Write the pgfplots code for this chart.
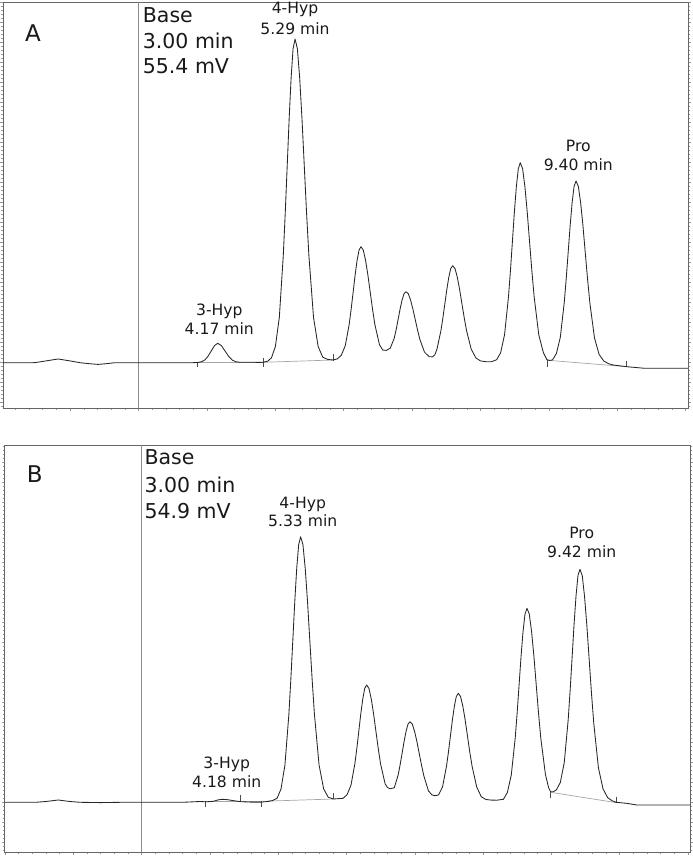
\documentclass[border=0pt]{standalone}
\usepackage{pgfplots}
\pgfplotsset{compat=1.18}
\usepackage{fontspec}
\setmainfont{DejaVu Sans}
\newcommand\bigf{\fontsize{20.5}{24}\selectfont}
\newcommand\smf{\fontsize{15.6}{18}\selectfont}
\newcommand\panf{\fontsize{23}{27}\selectfont}
\pgfplotsset{chrom/.style={
  scale only axis,
  axis line style={draw=black!60, line width=0.9pt},
  xtick distance=1, minor x tick num=4,
  ytick distance=20, minor y tick num=4,
  xticklabels={}, yticklabels={},
  tick align=outside, xtick pos=bottom, ytick pos=both,
  major tick length=3pt, minor tick length=2pt,
  tick style={black!40, line width=0.4pt},
  clip=true,
}}
\begin{document}
\begin{tikzpicture}[x=1pt,y=1pt]
\useasboundingbox (0,0) rectangle (693,857);
% ---------------- Panel A ----------------
\begin{axis}[chrom, at={(3pt,449pt)}, anchor=south west,
  width=685pt, height=406pt,
  xmin=1.02, xmax=11.035, ymin=-45.3, ymax=360.7]
\addplot[black!45, line width=0.7pt] coordinates {(3,-45.3) (3,360.7)};
\addplot[black!35, line width=0.7pt] coordinates {(3.859,0) (4.824,0)};
\addplot[black!35, line width=0.7pt] coordinates {(4.824,0.4) (5.845,2.7)};
\addplot[black!35, line width=0.7pt] coordinates {(8.972,2.5) (10.14,-4.0)};
\addplot[black!70, line width=0.6pt] coordinates {(3.859,0) (3.859,-4)};
\addplot[black!70, line width=0.6pt] coordinates {(4.824,4.4) (4.824,-4)};
\addplot[black!70, line width=0.6pt] coordinates {(5.845,8.7) (5.845,2)};
\addplot[black!70, line width=0.6pt] coordinates {(8.972,2.5) (8.972,-4)};
\addplot[black!70, line width=0.6pt] coordinates {(10.14,2) (10.14,-4)};
\addplot[black!85, line width=0.85pt, line join=round] coordinates {
(1.02,0) (1.46,0) (1.52,0.4) (1.65,1.8) (1.825,3.7) (2.0,1.8) (2.146,0) (2.28,-1.0) (2.409,-1.7) (2.53,-1.0) (2.658,0) (3.8,0)
(3.875,0.3) (3.9225,1.0) (3.97,2.7) (4.0175,6.4) (4.065,11.8) (4.1125,17.1) (4.16,19.4) (4.2125,17.1) (4.265,11.8) (4.3175,6.4) (4.37,2.7) (4.4225,1.0) (4.475,0.5) (4.55,0.4) (4.65,0.5) (4.75,0.3) (4.82,0.4)
(4.89,1.5) (4.945,4.9) (5.0025,16.2) (5.06,45.3) (5.1175,106.8) (5.146,148.9) (5.175,196.5) (5.204,244.4) (5.2325,284.9) (5.261,314.0) (5.29,323.7) (5.324,314.0) (5.3575,284.9) (5.391,244.4) (5.425,196.5) (5.459,148.9) (5.4925,106.8) (5.56,45.3) (5.6275,16.2) (5.695,5.5) (5.77,3.2) (5.845,2.7)
(5.909,3.8) (5.9665,7.5) (6.024,17.0) (6.0815,38.3) (6.11,53.4) (6.139,70.4) (6.168,87.6) (6.1965,102.1) (6.225,112.5) (6.254,116) (6.288,112.5) (6.3215,102.1) (6.355,87.6) (6.389,70.4) (6.423,53.4) (6.4565,38.3) (6.524,18.0) (6.572,12.7)
(6.625,12.3) (6.682,14.5) (6.7395,24.4) (6.768,33.0) (6.797,43.3) (6.8255,53.6) (6.854,62.5) (6.883,68.9) (6.912,71) (6.946,68.9) (6.9795,62.5) (7.013,53.6) (7.047,43.1) (7.081,32.7) (7.1145,23.4) (7.182,10.6) (7.25,6.0) (7.3,5.8)
(7.335,8.0) (7.365,13.6) (7.4225,32.0) (7.451,44.6) (7.48,58.9) (7.509,73.2) (7.5375,85.4) (7.566,94.1) (7.595,97) (7.629,94.1) (7.6625,85.4) (7.696,73.2) (7.73,58.9) (7.764,44.6) (7.7975,32.0) (7.865,13.6) (7.9325,4.9) (8.0,1.8) (8.08,1.0) (8.165,1.0)
(8.238,3) (8.2955,10) (8.353,28) (8.4105,66) (8.439,92) (8.468,121.4) (8.497,151) (8.5255,176) (8.554,194) (8.583,200) (8.617,194) (8.6505,176) (8.684,151) (8.718,121.4) (8.752,92) (8.7855,66) (8.853,28) (8.9205,10) (8.972,3.0)
(9.01,2.3) (9.053,2.7) (9.1105,9.1) (9.168,25.4) (9.2255,60.0) (9.254,83.6) (9.283,110.3) (9.312,137.2) (9.3405,159.9) (9.369,176.2) (9.398,181.7) (9.432,176.2) (9.4655,159.9) (9.499,137.0) (9.533,110.0) (9.567,83.2) (9.6005,59.5) (9.668,24.7) (9.7355,8.3) (9.803,1.7) (9.87,-0.9) (9.94,-2.3) (10.14,-4.0) (10.4,-5.6) (11.035,-5.6)
};
\end{axis}
% ---------------- Panel B ----------------
\begin{axis}[chrom, at={(4.7pt,5pt)}, anchor=south west,
  width=685.3pt, height=407pt,
  xmin=0.996, xmax=11.03, ymin=-49.7, ymax=357.3]
\addplot[black!45, line width=0.7pt] coordinates {(3,-49.7) (3,357.3)};
\addplot[black!35, line width=0.7pt] coordinates {(3.928,1) (4.758,1)};
\addplot[black!35, line width=0.7pt] coordinates {(4.758,1) (5.807,3.3)};
\addplot[black!35, line width=0.7pt] coordinates {(8.99,10) (9.946,-0.3)};
\addplot[black!70, line width=0.6pt] coordinates {(3.928,1) (3.928,-4.3)};
\addplot[black!70, line width=0.6pt] coordinates {(4.451,7.3) (4.451,1.7)};
\addplot[black!70, line width=0.6pt] coordinates {(4.758,1.7) (4.758,-4.3)};
\addplot[black!70, line width=0.6pt] coordinates {(5.807,9) (5.807,3)};
\addplot[black!70, line width=0.6pt] coordinates {(8.99,10) (8.99,4)};
\addplot[black!70, line width=0.6pt] coordinates {(9.946,5.7) (9.946,-0.3)};
\addplot[black!85, line width=0.85pt, line join=round] coordinates {
(0.996,0) (1.45,0) (1.6,0.8) (1.78,2.3) (1.95,0.8) (2.1,0) (2.4,-0.3) (2.7,0) (3.6,0) (3.7,0.3) (3.85,0.8) (3.95,0.5) (4.05,1.0) (4.12,2.4) (4.18,3.0) (4.26,2.6) (4.36,1.5) (4.45,0.6) (4.6,0.2) (4.75,0.2) (4.85,0.8)
(4.92,1.8) (4.984,4.0) (5.0415,13.3) (5.099,37.2) (5.1565,87.6) (5.185,122.2) (5.214,161.2) (5.243,200.5) (5.2715,233.7) (5.3,257.6) (5.329,265.6) (5.363,257.6) (5.3965,233.7) (5.43,200.5) (5.464,161.2) (5.498,122.2) (5.5315,87.6) (5.599,37.2) (5.6665,13.3) (5.734,5.0) (5.807,3.3)
(5.951,4.0) (6.0085,7.6) (6.066,17.0) (6.1235,38.7) (6.152,54.0) (6.181,71.2) (6.21,88.6) (6.2385,103.2) (6.267,113.8) (6.296,117.3) (6.33,113.8) (6.3635,103.2) (6.397,88.6) (6.431,71.2) (6.465,54.0) (6.4985,38.7) (6.566,18.5) (6.6,14.8) (6.64,13.5)
(6.7,14.5) (6.7575,27.5) (6.786,37.6) (6.815,49.1) (6.844,60.9) (6.8725,70.9) (6.901,78.2) (6.93,80.6) (6.964,78.2) (6.9975,70.9) (7.031,60.9) (7.065,48.9) (7.099,37.1) (7.1325,26.6) (7.2,11.5) (7.25,7.5) (7.29,6.6)
(7.33,7.0) (7.3495,7.5) (7.407,15.5) (7.4645,36.0) (7.493,50.1) (7.522,66.2) (7.551,82.3) (7.5795,95.9) (7.608,105.7) (7.637,109) (7.671,105.7) (7.7045,95.9) (7.738,82.3) (7.772,66.2) (7.806,50.1) (7.8395,36.0) (7.907,15.3) (7.9745,5.5) (8.042,2.8) (8.12,2.2) (8.2,2.1)
(8.298,3.0) (8.3555,9.7) (8.413,27.2) (8.4705,64.0) (8.499,89.2) (8.528,117.8) (8.557,146.5) (8.5855,170.7) (8.614,188.2) (8.643,194) (8.677,188.2) (8.7105,170.7) (8.744,146.5) (8.778,117.8) (8.812,89.2) (8.8455,64.0) (8.913,28) (8.96,14.5) (8.99,10.5)
(9.03,10.6) (9.074,12.5) (9.1315,19.9) (9.189,39.8) (9.2465,82.5) (9.275,111.9) (9.304,145.1) (9.333,178.5) (9.3615,206.7) (9.39,227.0) (9.419,233) (9.453,226.4) (9.4865,205.4) (9.52,176.6) (9.554,142.5) (9.588,108.6) (9.6215,78.6) (9.689,34.6) (9.7565,13.4) (9.824,4.7) (9.89,1.5) (9.95,0) (10.1,-1.0) (10.25,-2.7) (11.03,-2.7)
};
\end{axis}
% ---------------- Labels ----------------
\begin{scope}[every node/.style={inner sep=0pt, text=black!90}]
\node[anchor=base west] at (25,815.3) {\panf A};
\node[anchor=base west] at (142.7,834.7) {\bigf Base};
\node[anchor=base west] at (142.7,808.7) {\bigf 3.00 min};
\node[anchor=base west] at (142.7,783) {\bigf 55.4 mV};
\node[anchor=base] at (295,843) {\smf 4-Hyp};
\node[anchor=base] at (295,822.7) {\smf 5.29 min};
\node[anchor=base] at (219.3,541) {\smf 3-Hyp};
\node[anchor=base] at (219.3,522) {\smf 4.17 min};
\node[anchor=base] at (578.3,705.3) {\smf Pro};
\node[anchor=base] at (578.3,686) {\smf 9.40 min};
\node[anchor=base west] at (26.7,374.7) {\panf B};
\node[anchor=base west] at (144.3,392) {\bigf Base};
\node[anchor=base west] at (144.3,364.3) {\bigf 3.00 min};
\node[anchor=base west] at (144.3,338.7) {\bigf 54.9 mV};
\node[anchor=base] at (302.7,348.7) {\smf 4-Hyp};
\node[anchor=base] at (302.7,330.3) {\smf 5.33 min};
\node[anchor=base] at (226.7,88.7) {\smf 3-Hyp};
\node[anchor=base] at (226.7,69.7) {\smf 4.18 min};
\node[anchor=base] at (581.7,318.7) {\smf Pro};
\node[anchor=base] at (581.7,299.7) {\smf 9.42 min};
\end{scope}
\end{tikzpicture}
\end{document}
